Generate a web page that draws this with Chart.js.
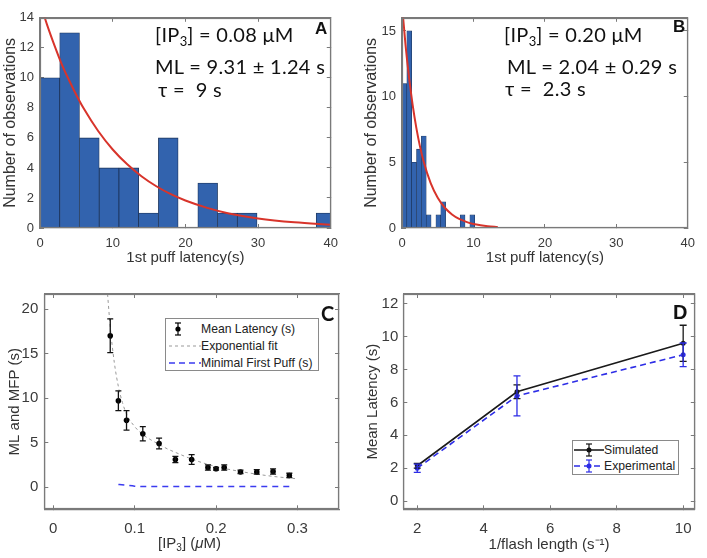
<!DOCTYPE html>
<html>
<head>
<meta charset="utf-8">
<script src="https://cdn.jsdelivr.net/npm/chart.js@4.4.1/dist/chart.umd.min.js"></script>
<style>
  html, body { margin: 0; padding: 0; background: #fff; }
  #wrap { position: relative; width: 707px; height: 558px; background: #fff; overflow: hidden; }
  canvas { position: absolute; }
  .ann { position: absolute; font-family: Lato, "Open Sans", sans-serif; font-size: 20px; line-height: 20px; letter-spacing: 0.3px; color: #111; white-space: nowrap; }
  .ann sub { font-size: 13px; vertical-align: -4px; line-height: 0; letter-spacing: 0; }
  .letter { position: absolute; font-family: "Liberation Sans", Arial, sans-serif; font-weight: bold; color: #111; line-height: 1; }
  .legend { position: absolute; border: 1px solid #8a8a8a; background: #fff; font-family: "Liberation Sans", Arial, sans-serif; font-size: 12.2px; color: #222; }
  .legend .row { position: absolute; left: 0; height: 16px; line-height: 16px; white-space: nowrap; }
  .legend svg { position: absolute; top: 0; }
  .legend span { position: absolute; top: 0; }
  .xt { position: absolute; font-family: "Liberation Sans", Arial, sans-serif; font-size: 15px; color: #333; white-space: nowrap; }
  .xt sub { font-size: 10px; vertical-align: -3px; line-height: 0; }
</style>
</head>
<body>
<div id="wrap">
  <canvas id="cA" width="350" height="270" style="left:0;top:0"></canvas>
  <canvas id="cB" width="357" height="270" style="left:350px;top:0"></canvas>
  <canvas id="cC" width="350" height="288" style="left:0;top:270px"></canvas>
  <canvas id="cD" width="357" height="288" style="left:350px;top:270px"></canvas>

  <div class="ann" style="left:155px;top:24px">[IP<sub>3</sub>] = 0.08 μM</div>
  <div class="ann" style="left:155px;top:56px">ML = 9.31 ± 1.24 s</div>
  <div class="ann" style="left:158px;top:79px">τ =&nbsp; 9 s</div>
  <div class="letter" style="left:315px;top:20px;font-size:17px">A</div>

  <div class="ann" style="left:504px;top:24px">[IP<sub>3</sub>] = 0.20 μM</div>
  <div class="ann" style="left:507px;top:56px">ML = 2.04 ± 0.29 s</div>
  <div class="ann" style="left:505px;top:78px">τ =&nbsp; 2.3 s</div>
  <div class="letter" style="left:673px;top:18px;font-size:17px">B</div>

  <div class="letter" style="left:321px;top:303px;font-size:20px;font-family:Lato,sans-serif">C</div>
  <div class="letter" style="left:673px;top:302px;font-size:20px">D</div>

  <div class="xt" style="left:158px;top:534px">[IP<sub>3</sub>] (<i>μ</i>M)</div>

  <div class="legend" style="left:165px;top:318px;width:152px;height:51px">
    <div class="row" style="top:2px">
      <svg width="34" height="16" style="left:2px"><line x1="10" y1="2" x2="10" y2="14" stroke="#000" stroke-width="1.2"/><line x1="7" y1="2" x2="13" y2="2" stroke="#000" stroke-width="1.2"/><line x1="7" y1="14" x2="13" y2="14" stroke="#000" stroke-width="1.2"/><circle cx="10" cy="8" r="2.6" fill="#000"/></svg>
      <span style="left:35px">Mean Latency (s)</span>
    </div>
    <div class="row" style="top:19px">
      <svg width="34" height="16" style="left:2px"><line x1="1" y1="8" x2="33" y2="8" stroke="#999" stroke-width="1" stroke-dasharray="3,3"/></svg>
      <span style="left:35px">Exponential fit</span>
    </div>
    <div class="row" style="top:36px">
      <svg width="34" height="16" style="left:2px"><line x1="1" y1="8" x2="33" y2="8" stroke="#3b3bf0" stroke-width="1.5" stroke-dasharray="6,4"/></svg>
      <span style="left:35px">Minimal First Puff (s)</span>
    </div>
  </div>

  <div class="legend" style="left:572px;top:440px;width:105px;height:33px">
    <div class="row" style="top:1px">
      <svg width="32" height="16" style="left:1px"><line x1="0" y1="8" x2="30" y2="8" stroke="#111" stroke-width="1.5"/><line x1="15" y1="2" x2="15" y2="14" stroke="#111" stroke-width="1.2"/><line x1="12" y1="2" x2="18" y2="2" stroke="#111" stroke-width="1.2"/><line x1="12" y1="14" x2="18" y2="14" stroke="#111" stroke-width="1.2"/><circle cx="15" cy="8" r="2.5" fill="#111"/></svg>
      <span style="left:31px">Simulated</span>
    </div>
    <div class="row" style="top:17px">
      <svg width="32" height="16" style="left:1px"><line x1="0" y1="8" x2="30" y2="8" stroke="#2d2de6" stroke-width="1.5" stroke-dasharray="6,4"/><line x1="15" y1="2" x2="15" y2="14" stroke="#2d2de6" stroke-width="1.2"/><line x1="12" y1="2" x2="18" y2="2" stroke="#2d2de6" stroke-width="1.2"/><line x1="12" y1="14" x2="18" y2="14" stroke="#2d2de6" stroke-width="1.2"/><circle cx="15" cy="8" r="2.5" fill="#2d2de6"/></svg>
      <span style="left:31px">Experimental</span>
    </div>
  </div>
</div>

<script>
// ---------------- DATA ----------------
// Panel A histogram ([IP3] = 0.08 uM)
const binEdgesA = [0, 2.714, 5.429, 8.143, 10.857, 13.571, 16.286, 19.0, 21.714, 24.429, 27.143, 29.857, 32.571, 35.286, 38.0, 40.714];
const countsA   = [10, 13, 6, 4, 4, 1, 6, 0, 3, 1, 1, 0, 0, 0, 1];
const fitXA = [0, 1, 2, 3, 4, 5, 6, 8, 10, 12, 14, 16, 18, 20, 23, 26, 30, 35, 40];
const fitYA = [15, 13.5, 12.15, 10.9, 9.84, 8.86, 7.97, 6.46, 5.23, 4.24, 3.43, 2.78, 2.25, 1.83, 1.34, 0.97, 0.64, 0.38, 0.22];

// Panel B histogram ([IP3] = 0.20 uM)
const binEdgesB = [0, 0.678, 1.357, 2.035, 2.714, 3.392, 4.071, 4.75, 5.428, 6.107, 6.785, 7.464, 8.142, 8.821, 9.5, 10.178];
const countsB   = [11, 15, 5, 6, 7, 1, 0, 1, 2, 0, 0, 0, 1, 0, 1];
const fitXB = [0, 0.5, 1, 1.5, 2, 2.5, 3, 4, 5, 6, 7, 8, 9, 10, 11, 12, 13.4];
const fitYB = [17, 13.9, 11.4, 9.33, 7.64, 6.25, 5.12, 3.43, 2.30, 1.54, 1.03, 0.69, 0.47, 0.31, 0.21, 0.14, 0.08];

// Panel C
const ip3C      = [0.07, 0.08, 0.09, 0.11, 0.13, 0.15, 0.17, 0.19, 0.20, 0.21, 0.23, 0.25, 0.27, 0.29];
const meanLatC  = [17.0, 9.7, 7.5, 6.0, 4.9, 3.1, 3.1, 2.2, 2.05, 2.2, 1.7, 1.7, 1.75, 1.3];
const errC      = [1.9, 1.1, 1.1, 0.8, 0.6, 0.35, 0.55, 0.3, 0.15, 0.3, 0.2, 0.25, 0.3, 0.25];
const fitXC = [0.0667, 0.07, 0.075, 0.08, 0.085, 0.09, 0.10, 0.11, 0.12, 0.13, 0.14, 0.15, 0.17, 0.19, 0.21, 0.23, 0.25, 0.27, 0.297];
const fitYC = [21.7, 18.0, 14.0, 11.3, 9.5, 8.2, 6.8, 5.9, 5.3, 4.8, 4.3, 3.9, 3.15, 2.55, 2.1, 1.75, 1.45, 1.2, 0.95];
const mfpXC = [0.08, 0.09, 0.10, 0.11, 0.13, 0.15, 0.17, 0.19, 0.21, 0.23, 0.25, 0.27, 0.29];
const mfpYC = [0.3, 0.2, 0.1, 0.05, 0.05, 0.05, 0.05, 0.05, 0.05, 0.05, 0.05, 0.05, 0.05];

// Panel D
const flashD   = [2, 5, 10];
const simD     = [2.15, 6.65, 9.6];
const simErrD  = [0.15, 0.42, 1.1];
const expD     = [2.0, 6.4, 8.9];
const expErrD  = [0.25, 1.22, 0.72];

// ---------------- HELPERS ----------------
Chart.defaults.font.family = '"Liberation Sans", Arial, sans-serif';
Chart.defaults.color = '#3a3a3a';
const BOX = '#7a7a7a';
const TL = 4;

const centers = (edges) => edges.slice(0, -1).map((e, i) => (e + edges[i + 1]) / 2);
const pts = (xs, ys) => xs.map((x, i) => ({x, y: ys[i]}));
const fmt = (v) => { const r = Math.round(v * 1000) / 1000; return (Math.abs(r) < 1e-9 ? 0 : r).toString(); };

const errPlugin = {
  id: 'errbars',
  afterDatasetsDraw(chart) {
    const ctx = chart.ctx, y = chart.scales.y;
    chart.data.datasets.forEach((ds, di) => {
      if (!ds.errors) return;
      const meta = chart.getDatasetMeta(di);
      ctx.save();
      ctx.strokeStyle = ds.errorColor; ctx.lineWidth = 1.3; ctx.setLineDash([]);
      const cap = ds.capHalf || 3;
      meta.data.forEach((el, i) => {
        const v = ds.data[i].y, e = ds.errors[i];
        const x = el.x, yt = y.getPixelForValue(v + e), yb = y.getPixelForValue(v - e);
        ctx.beginPath();
        ctx.moveTo(x, yt); ctx.lineTo(x, yb);
        ctx.moveTo(x - cap, yt); ctx.lineTo(x + cap, yt);
        ctx.moveTo(x - cap, yb); ctx.lineTo(x + cap, yb);
        ctx.stroke();
      });
      ctx.restore();
    });
  }
};

// frame drawn over everything, using the chart's own scales
const framePlugin = {
  id: 'frame',
  afterDraw(chart) {
    const ctx = chart.ctx, a = chart.chartArea;
    ctx.save();
    ctx.globalAlpha = 1;
    ctx.setLineDash([]);
    ctx.strokeStyle = BOX;
    ctx.lineWidth = 1.2;
    ctx.strokeRect(Math.round(a.left) + 0.5, Math.round(a.top) + 0.5, Math.round(a.right - a.left) - 1, Math.round(a.bottom - a.top) - 1);
    ctx.restore();
  }
};

const gridInward = {display: true, drawOnChartArea: false, drawTicks: true, tickLength: -TL, color: BOX, lineWidth: 1};
const borderOpt = {display: true, color: BOX, width: 1.2};

function axes(o) {
  const xt = {stepSize: o.xstep, includeBounds: false, maxRotation: 0, autoSkip: false, callback: fmt};
  const yt = {stepSize: o.ystep, includeBounds: false, autoSkip: false, callback: fmt};
  return {
    x: {
      type: 'linear', position: 'bottom', min: o.xmin, max: o.xmax, offset: false,
      grid: Object.assign({offset: false}, gridInward), border: borderOpt,
      ticks: Object.assign({padding: o.xpad + TL, font: {size: o.tick}, color: '#3a3a3a'}, xt),
      title: o.xtitle ? {display: true, text: o.xtitle, font: {size: o.xtsize}, color: '#333', padding: {top: 0, bottom: o.xtpad}} : {display: false},
      afterFit(s) { s.height = o.xh; }
    },
    y: {
      type: 'linear', position: 'left', min: o.ymin, max: o.ymax,
      grid: gridInward, border: borderOpt,
      ticks: Object.assign({padding: o.ypad + TL, font: {size: o.tick}, color: '#3a3a3a'}, yt),
      title: {display: true, text: o.ytitle, font: {size: o.ytsize}, color: '#333', padding: {top: o.ytpad, bottom: 0}},
      afterFit(s) { s.width = o.yw; }
    },
    x2: {
      type: 'linear', position: 'top', min: o.xmin, max: o.xmax, offset: false,
      grid: Object.assign({offset: false}, gridInward), border: borderOpt,
      ticks: Object.assign({display: false}, xt),
      afterFit(s) { s.height = 0; }
    },
    y2: {
      type: 'linear', position: 'right', min: o.ymin, max: o.ymax,
      grid: gridInward, border: borderOpt,
      ticks: Object.assign({display: false}, yt),
      afterFit(s) { s.width = 0; }
    }
  };
}

const base = (pad) => ({
  responsive: false, animation: false, devicePixelRatio: 1,
  layout: {padding: pad},
  plugins: {legend: {display: false}, tooltip: {enabled: false}}
});

const BAR_FILL = '#3263ae';
const BAR_EDGE = '#1d3459';
const RED = '#d8342b';

// ---------------- PANEL A ----------------
new Chart(document.getElementById('cA'), {
  data: {
    datasets: [
      {type: 'bar', data: pts(centers(binEdgesA), countsA), backgroundColor: BAR_FILL, borderColor: BAR_EDGE, borderWidth: 0.8, barPercentage: 1, categoryPercentage: 1, xAxisID: 'x', yAxisID: 'y', order: 2},
      {type: 'line', data: pts(fitXA, fitYA), borderColor: RED, borderWidth: 2, pointRadius: 0, cubicInterpolationMode: 'monotone', clip: 0, xAxisID: 'x', yAxisID: 'y', order: 1}
    ]
  },
  options: Object.assign(base({left: 0, top: 5, right: 15, bottom: 0}), {
    scales: axes({xmin: 0, xmax: 40, xstep: 10, ymin: 0, ymax: 14, ystep: 2, tick: 13, xpad: 8, ypad: 6,
      xtitle: '1st puff latency(s)', xtsize: 15, xtpad: 3, xh: 42,
      ytitle: 'Number of observations', ytsize: 16, ytpad: 1, yw: 40})
  }),
  plugins: [errPlugin, framePlugin]
});

// ---------------- PANEL B ----------------
new Chart(document.getElementById('cB'), {
  data: {
    datasets: [
      {type: 'bar', data: pts(centers(binEdgesB), countsB), backgroundColor: BAR_FILL, borderColor: BAR_EDGE, borderWidth: 0.6, barPercentage: 1, categoryPercentage: 1, xAxisID: 'x', yAxisID: 'y', order: 2},
      {type: 'line', data: pts(fitXB, fitYB), borderColor: RED, borderWidth: 2, pointRadius: 0, cubicInterpolationMode: 'monotone', clip: 0, xAxisID: 'x', yAxisID: 'y', order: 1}
    ]
  },
  options: Object.assign(base({left: 0, top: 5, right: 10, bottom: 0}), {
    scales: axes({xmin: 0, xmax: 40, xstep: 10, ymin: 0, ymax: 16, ystep: 5, tick: 13, xpad: 8, ypad: 6,
      xtitle: '1st puff latency(s)', xtsize: 15, xtpad: 3, xh: 42,
      ytitle: 'Number of observations', ytsize: 16, ytpad: 12, yw: 52})
  }),
  plugins: [errPlugin, framePlugin]
});

// ---------------- PANEL C ----------------
new Chart(document.getElementById('cC'), {
  data: {
    datasets: [
      {type: 'line', data: pts(fitXC, fitYC), borderColor: '#9a9a9a', borderWidth: 1, borderDash: [3, 3], pointRadius: 0, cubicInterpolationMode: 'monotone', clip: 0, xAxisID: 'x', yAxisID: 'y', order: 3},
      {type: 'line', data: pts(mfpXC, mfpYC), borderColor: '#3b3bf0', borderWidth: 1.5, borderDash: [6, 5], pointRadius: 0, cubicInterpolationMode: 'monotone', clip: 0, xAxisID: 'x', yAxisID: 'y', order: 2},
      {type: 'line', data: pts(ip3C, meanLatC), showLine: false, pointRadius: 2.8, pointBackgroundColor: '#000', pointBorderColor: '#000', pointBorderWidth: 0, errors: errC, errorColor: '#111', capHalf: 3, xAxisID: 'x', yAxisID: 'y', order: 1}
    ]
  },
  options: Object.assign(base({left: 0, top: 24, right: 11, bottom: 0}), {
    scales: axes({xmin: -0.011, xmax: 0.351, xstep: 0.1, ymin: -2.5, ymax: 21.7, ystep: 5, tick: 15, xpad: 11, ypad: 6,
      xtitle: '', xtsize: 15, xtpad: 3, xh: 48.7,
      ytitle: 'ML and MFP (s)', ytsize: 15, ytpad: 6, yw: 44.3})
  }),
  plugins: [errPlugin, framePlugin]
});

// ---------------- PANEL D ----------------
new Chart(document.getElementById('cD'), {
  data: {
    datasets: [
      {type: 'line', data: pts(flashD, simD), borderColor: '#1a1a1a', borderWidth: 1.6, pointRadius: 2.5, pointBackgroundColor: '#1a1a1a', pointBorderWidth: 0, tension: 0, errors: simErrD, errorColor: '#1a1a1a', capHalf: 3.5, xAxisID: 'x', yAxisID: 'y', order: 2},
      {type: 'line', data: pts(flashD, expD), borderColor: '#2d2de6', borderWidth: 1.6, borderDash: [6, 4], pointRadius: 2.5, pointBackgroundColor: '#2d2de6', pointBorderWidth: 0, tension: 0, errors: expErrD, errorColor: '#2d2de6', capHalf: 3.5, xAxisID: 'x', yAxisID: 'y', order: 1}
    ]
  },
  options: Object.assign(base({left: 0, top: 24, right: 12, bottom: 0}), {
    scales: axes({xmin: 1.58, xmax: 10.35, xstep: 2, ymin: -0.5, ymax: 12.6, ystep: 2, tick: 15, xpad: 11, ypad: 5,
      xtitle: '1/flash length (s⁻¹)', xtsize: 15, xtpad: 4, xh: 48.7,
      ytitle: 'Mean Latency (s)', ytsize: 15, ytpad: 14, yw: 53.3})
  }),
  plugins: [errPlugin, framePlugin]
});
</script>
</body>
</html>
